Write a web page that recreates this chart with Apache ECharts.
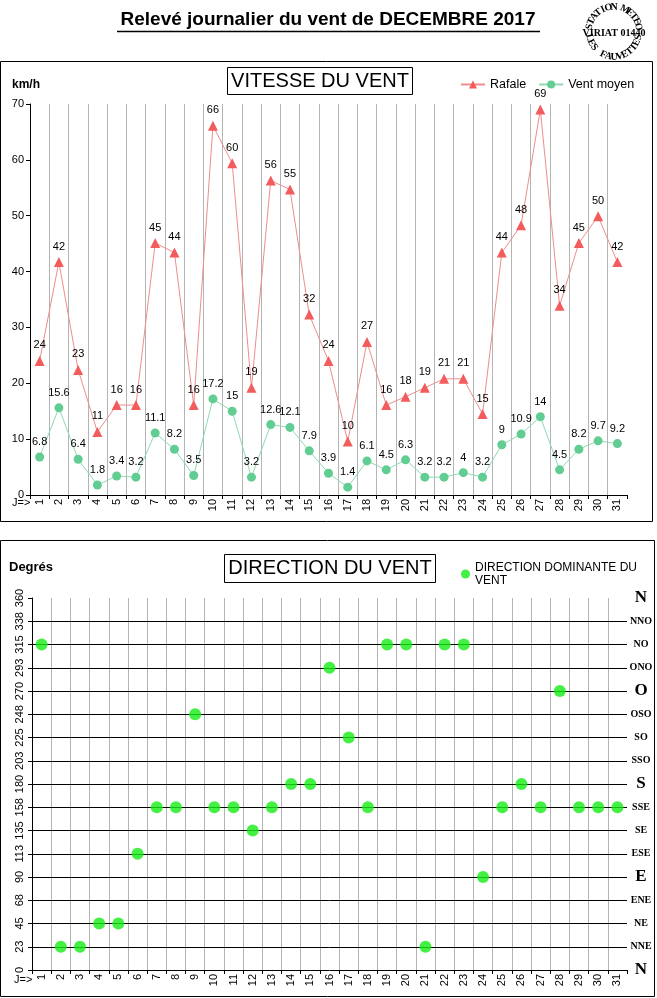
<!DOCTYPE html>
<html><head><meta charset="utf-8">
<script src="https://cdn.jsdelivr.net/npm/echarts@6/dist/echarts.min.js"></script>
<style>html,body{margin:0;padding:0;background:#fff}#c{width:657px;height:998px}</style>
</head><body><div id="c"></div>
<script>
// ---- data ----
const days = ['1','2','3','4','5','6','7','8','9','10','11','12','13','14','15','16','17','18','19','20','21','22','23','24','25','26','27','28','29','30','31'];
const rafale = [24.0,41.7,22.4,11.3,16.1,16.1,45.1,43.4,16.1,66.1,59.4,19.2,56.3,54.7,32.3,24.0,9.6,27.4,16.1,17.6,19.2,20.8,20.8,14.5,43.4,48.3,69.0,33.9,45.1,49.9,41.7];
const rafaleLabels = [24,42,23,11,16,16,45,44,16,66,60,19,56,55,32,24,10,27,16,18,19,21,21,15,44,48,69,34,45,50,42];
const ventMoyen = [6.8,15.6,6.4,1.8,3.4,3.2,11.1,8.2,3.5,17.2,15,3.2,12.6,12.1,7.9,3.9,1.4,6.1,4.5,6.3,3.2,3.2,4,3.2,9,10.9,14,4.5,8.2,9.7,9.2];
const direction = [315,22.5,22.5,45,45,112.5,157.5,157.5,247.5,157.5,157.5,135,157.5,180,180,292.5,225,157.5,315,315,22.5,315,315,90,157.5,180,157.5,270,157.5,157.5,157.5];
const dirTickLabels = ['0','23','45','68','90','113','135','158','180','203','225','248','270','293','315','338','360'];
const dirNames = ['N','NNE','NE','ENE','E','ESE','SE','SSE','S','SSO','SO','OSO','O','ONO','NO','NNO','N'];

const FF = '"Liberation Sans", Arial, sans-serif';
const SERIF = '"Liberation Serif", "Times New Roman", serif';

// vertical grid colours: hide the line at the right end of the axis
const vGridColors = [];
for (let i = 0; i < days.length; i++) vGridColors.push('#b4b4b4');
vGridColors.push('rgba(0,0,0,0)');

// ---- stamp letters ----
const stamp = [];
const cx = 614, cy = 32, r = 25;
function arc(str, a0, a1, top) {
  const n = str.length;
  for (let i = 0; i < n; i++) {
    const ch = str[i];
    if (ch === ' ') continue;
    const a = a0 + (a1 - a0) * i / (n - 1);
    const rad = a * Math.PI / 180;
    const rot = top ? -(a - 270) * Math.PI / 180 : -(a - 90) * Math.PI / 180;
    stamp.push({type:'text', x: cx + r*Math.cos(rad), y: cy + r*Math.sin(rad), rotation: rot,
      style:{text: ch, font: 'bold 10px ' + SERIF, fill:'#000', textAlign:'center', textVerticalAlign:'middle'}});
  }
}
arc('STATION METEO', 192, 348, true);
arc('LES FAUVETTES', 168, 12, false);

const chart = echarts.init(document.getElementById('c'), null, {renderer:'canvas'});
chart.setOption({
  animation: false,
  backgroundColor: '#fff',
  textStyle: {fontFamily: FF},
  grid: [
    {left: 30, right: 30, top: 104, bottom: 503},
    {left: 32, right: 30, top: 598, bottom: 28}
  ],
  legend: [
    {data: ['Rafale','Vent moyen'], left: 455, top: 73, itemWidth: 24, itemHeight: 10, itemGap: 12,
     textStyle: {fontSize: 12.5, color: '#000', fontFamily: FF}},
    {data: ['DIRECTION DOMINANTE DU\nVENT'], left: 456, top: 556, icon: 'circle', itemWidth: 9, itemHeight: 9, itemGap: 4,
     textStyle: {fontSize: 12, color: '#000', fontFamily: FF, lineHeight: 13}}
  ],
  xAxis: [
    {type: 'category', gridIndex: 0, data: days, boundaryGap: true,
     axisLine: {lineStyle: {color: '#000'}}, axisTick: {show: true, length: 4, lineStyle: {color: '#000'}},
     axisLabel: {rotate: 90, fontSize: 11, color: '#000', margin: 4, interval: 0, fontFamily: FF},
     splitLine: {show: true, lineStyle: {color: vGridColors, width: 1}}},
    {type: 'category', gridIndex: 1, data: days, boundaryGap: true,
     axisLine: {lineStyle: {color: '#000'}}, axisTick: {show: true, length: 4, lineStyle: {color: '#000'}},
     axisLabel: {rotate: 90, fontSize: 11, color: '#000', margin: 4, interval: 0, fontFamily: FF},
     splitLine: {show: true, lineStyle: {color: vGridColors, width: 1}}}
  ],
  yAxis: [
    {type: 'value', gridIndex: 0, min: 0, max: 70, interval: 10,
     axisLine: {show: true, lineStyle: {color: '#000'}}, axisTick: {show: true, length: 4, lineStyle: {color: '#000'}},
     axisLabel: {fontSize: 11, color: '#000', margin: 6, fontFamily: FF}, splitLine: {show: false}},
    {type: 'value', gridIndex: 1, min: 0, max: 360, interval: 22.5, z: 3,
     axisLine: {show: true, lineStyle: {color: '#000'}}, axisTick: {show: true, length: 4, lineStyle: {color: '#000'}},
     axisLabel: {rotate: 90, fontSize: 11, color: '#000', margin: 7, fontFamily: FF,
       formatter: v => dirTickLabels[Math.round(v / 22.5)]},
     splitLine: {show: true, showMinLine: false, showMaxLine: false, lineStyle: {color: '#000', width: 1}}},
    {type: 'value', gridIndex: 1, min: 0, max: 360, interval: 22.5, position: 'right',
     axisLine: {show: false}, axisTick: {show: false}, splitLine: {show: false},
     axisLabel: {margin: 14, align: 'center', formatter: v => {
        const n = dirNames[Math.round(v / 22.5)];
        return n.length === 1 ? '{big|' + n + '}' : '{small|' + n + '}';
      },
      rich: {big: {fontFamily: SERIF, fontWeight: 'bold', fontSize: 17, color: '#000'},
             small: {fontFamily: SERIF, fontWeight: 'bold', fontSize: 10, color: '#000'}}}}
  ],
  series: [
    {name: 'Rafale', type: 'line', xAxisIndex: 0, yAxisIndex: 0, data: rafale,
     symbol: 'triangle', symbolSize: 10,
     itemStyle: {color: '#f25c5c'}, lineStyle: {color: '#f08c8c', width: 1},
     label: {show: true, position: 'top', distance: 5, fontSize: 11, color: '#000', fontFamily: FF,
       formatter: p => String(rafaleLabels[p.dataIndex])}},
    {name: 'Vent moyen', type: 'line', xAxisIndex: 0, yAxisIndex: 0, data: ventMoyen,
     symbol: 'circle', symbolSize: 9,
     itemStyle: {color: '#62cd92'}, lineStyle: {color: '#8fdab0', width: 1},
     label: {show: true, position: 'top', distance: 5, fontSize: 11, color: '#000', fontFamily: FF}},
    {name: 'DIRECTION DOMINANTE DU\nVENT', type: 'scatter', xAxisIndex: 1, yAxisIndex: 1, data: direction,
     symbol: 'circle', symbolSize: 12, itemStyle: {color: '#14ec14'}, z: 5}
  ],
  graphic: [
    {type: 'rect', shape: {x: 0.5, y: 61.5, width: 652, height: 460}, style: {fill: 'none', stroke: '#000', lineWidth: 1}, silent: true},
    {type: 'rect', shape: {x: 0.5, y: 540.5, width: 654, height: 456}, style: {fill: 'none', stroke: '#000', lineWidth: 1}, silent: true},
    {type: 'text', x: 328, y: 20, style: {text: 'Relevé journalier du vent de DECEMBRE 2017', font: 'bold 19px ' + FF, fill: '#000', textAlign: 'center', textVerticalAlign: 'middle'}},
    {type: 'line', shape: {x1: 117, y1: 31.5, x2: 540, y2: 31.5}, style: {stroke: '#000', lineWidth: 1.5}},
    {type: 'rect', shape: {x: 227.5, y: 67.5, width: 185, height: 27}, style: {fill: '#fff', stroke: '#000', lineWidth: 1}},
    {type: 'text', x: 320, y: 81, style: {text: 'VITESSE DU VENT', font: '20px ' + FF, fill: '#000', textAlign: 'center', textVerticalAlign: 'middle'}},
    {type: 'rect', shape: {x: 224.5, y: 554.5, width: 211, height: 28}, style: {fill: '#fff', stroke: '#000', lineWidth: 1}},
    {type: 'text', x: 330, y: 568.5, style: {text: 'DIRECTION DU VENT', font: '20px ' + FF, fill: '#000', textAlign: 'center', textVerticalAlign: 'middle'}},
    {type: 'text', x: 12, y: 85, style: {text: 'km/h', font: 'bold 12px ' + FF, fill: '#000', textVerticalAlign: 'middle'}},
    {type: 'text', x: 9, y: 567, style: {text: 'Degrés', font: 'bold 13px ' + FF, fill: '#000', textVerticalAlign: 'middle'}},
    {type: 'text', x: 12, y: 503, style: {text: 'J=>', font: '11px ' + FF, fill: '#000', textVerticalAlign: 'middle'}},
    {type: 'text', x: 14, y: 980, style: {text: 'J=>', font: '11px ' + FF, fill: '#000', textVerticalAlign: 'middle'}},
    {type: 'text', x: 614, y: 33, style: {text: 'VIRIAT 01440', font: 'bold 10px ' + SERIF, fill: '#000', textAlign: 'center', textVerticalAlign: 'middle'}}
  ].concat(stamp)
});
</script></body></html>
